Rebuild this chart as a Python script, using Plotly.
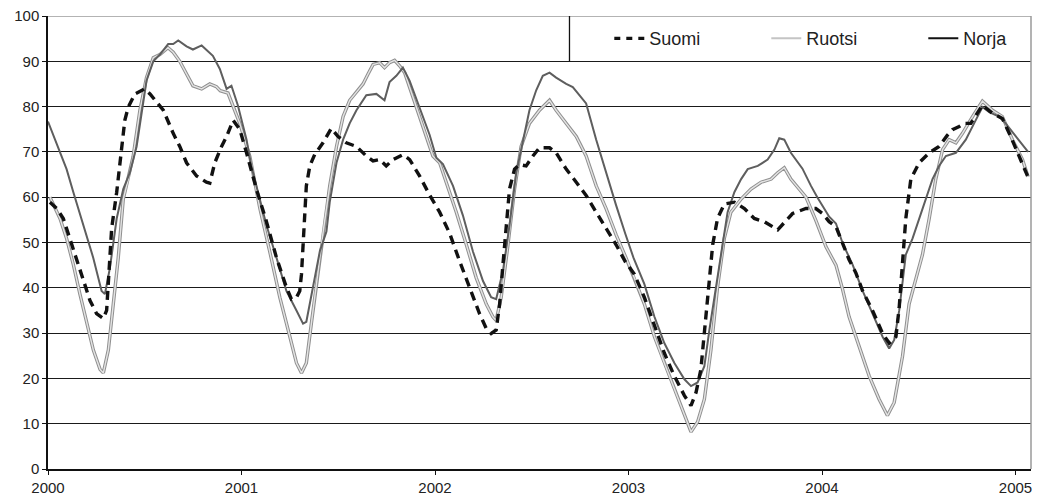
import plotly.graph_objects as go

# ---- data (decimal years, index values) ----
suomi_x = [2000.01, 2000.045, 2000.079, 2000.113, 2000.148, 2000.182, 2000.217, 2000.251, 2000.286, 2000.303,
           2000.312, 2000.329, 2000.355, 2000.38, 2000.397, 2000.415, 2000.449, 2000.5, 2000.527, 2000.596,
           2000.647, 2000.681, 2000.716, 2000.768, 2000.819, 2000.836, 2000.862, 2000.897, 2000.923, 2000.957,
           2000.991, 2001.026, 2001.077, 2001.129, 2001.181, 2001.232, 2001.258, 2001.284, 2001.301, 2001.31,
           2001.318, 2001.327, 2001.335, 2001.353, 2001.378, 2001.421, 2001.464, 2001.499, 2001.542, 2001.594,
           2001.645, 2001.68, 2001.714, 2001.748, 2001.783, 2001.834, 2001.869, 2001.92, 2001.972, 2002.024,
           2002.076, 2002.127, 2002.179, 2002.23, 2002.265, 2002.29, 2002.316, 2002.334, 2002.351, 2002.368,
           2002.385, 2002.411, 2002.437, 2002.471, 2002.506, 2002.54, 2002.592, 2002.626, 2002.678, 2002.73,
           2002.781, 2002.833, 2002.884, 2002.936, 2002.983, 2003.03, 2003.082, 2003.134, 2003.185, 2003.237,
           2003.289, 2003.323, 2003.349, 2003.374, 2003.4, 2003.418, 2003.435, 2003.46, 2003.495, 2003.547,
           2003.599, 2003.65, 2003.702, 2003.771, 2003.813, 2003.848, 2003.917, 2003.968, 2004.003, 2004.037,
           2004.072, 2004.106, 2004.14, 2004.175, 2004.21, 2004.261, 2004.313, 2004.347, 2004.382, 2004.399,
           2004.416, 2004.433, 2004.459, 2004.502, 2004.554, 2004.605, 2004.648, 2004.674, 2004.709, 2004.734,
           2004.769, 2004.803, 2004.829, 2004.881, 2004.932, 2004.975, 2005.018, 2005.062]
suomi_y = [58.9, 57.5, 55.3, 50.9, 45.9, 41.5, 37.2, 34.3, 33.2, 35.0,
           42.2, 53.1, 61.1, 69.8, 77.0, 79.9, 82.8, 83.9, 82.8, 79.2,
           74.1, 71.2, 67.6, 64.7, 63.3, 63.1, 67.6, 71.2, 73.4, 77.0,
           75.0, 69.8, 61.8, 54.6, 46.6, 40.1, 37.5, 37.9, 39.3, 43.0,
           49.5, 56.7, 62.5, 66.9, 69.4, 72.0, 75.2, 73.4, 72.0, 71.2,
           69.1, 68.0, 68.3, 66.9, 68.3, 69.4, 68.3, 64.7, 60.5, 56.7,
           52.0, 45.9, 40.1, 34.3, 31.0, 29.9, 30.7, 36.4, 45.1, 54.6,
           61.8, 66.2, 67.2, 66.9, 69.1, 70.9, 70.9, 69.8, 66.2, 63.3,
           60.4, 56.7, 53.1, 49.5, 45.8, 43.0, 37.9, 31.4, 25.6, 20.5,
           16.2, 14.0, 16.9, 22.0, 33.6, 42.2, 49.5, 55.3, 58.5, 58.9,
           57.5, 55.3, 54.6, 52.8, 54.9, 56.4, 57.5, 57.5, 56.4, 54.6,
           53.5, 49.9, 46.2, 43.3, 39.3, 35.0, 29.9, 27.8, 29.2, 35.7,
           45.1, 55.3, 64.0, 67.6, 69.8, 71.2, 73.7, 74.9, 75.6, 76.3,
           76.3, 78.5, 80.3, 78.5, 77.4, 73.4, 69.1, 64.7]

ruotsi_x = [2000.01, 2000.062, 2000.096, 2000.131, 2000.165, 2000.2, 2000.234, 2000.269, 2000.286, 2000.312,
            2000.337, 2000.363, 2000.389, 2000.415, 2000.44, 2000.475, 2000.509, 2000.544, 2000.578, 2000.62,
            2000.647, 2000.681, 2000.716, 2000.749, 2000.794, 2000.836, 2000.87, 2000.89, 2000.93, 2000.96,
            2000.991, 2001.043, 2001.095, 2001.146, 2001.198, 2001.25, 2001.284, 2001.31, 2001.335, 2001.361,
            2001.387, 2001.422, 2001.456, 2001.491, 2001.525, 2001.559, 2001.594, 2001.628, 2001.654, 2001.68,
            2001.714, 2001.739, 2001.765, 2001.791, 2001.817, 2001.843, 2001.886, 2001.938, 2001.989, 2002.024,
            2002.059, 2002.11, 2002.162, 2002.213, 2002.265, 2002.299, 2002.316, 2002.342, 2002.377, 2002.411,
            2002.445, 2002.488, 2002.54, 2002.592, 2002.626, 2002.678, 2002.73, 2002.781, 2002.833, 2002.884,
            2002.936, 2002.987, 2003.03, 2003.082, 2003.134, 2003.185, 2003.237, 2003.289, 2003.323, 2003.357,
            2003.392, 2003.426, 2003.46, 2003.495, 2003.529, 2003.582, 2003.633, 2003.685, 2003.737, 2003.771,
            2003.805, 2003.839, 2003.917, 2003.968, 2004.02, 2004.072, 2004.106, 2004.14, 2004.192, 2004.244,
            2004.295, 2004.338, 2004.373, 2004.416, 2004.45, 2004.485, 2004.519, 2004.554, 2004.588, 2004.623,
            2004.657, 2004.692, 2004.726, 2004.778, 2004.829, 2004.881, 2004.932, 2004.984, 2005.036, 2005.065]
ruotsi_y = [60.0, 55.3, 50.9, 45.1, 38.6, 32.1, 26.3, 22.0, 21.2, 26.3,
            36.4, 46.6, 59.6, 64.0, 69.0, 79.2, 86.4, 90.8, 91.5, 93.0,
            92.0, 90.0, 87.2, 84.6, 83.9, 85.0, 84.4, 83.5, 83.0, 79.5,
            76.3, 69.0, 57.5, 48.0, 37.9, 29.2, 23.4, 21.2, 23.4, 32.1,
            40.8, 52.4, 62.5, 71.2, 77.8, 81.4, 83.2, 85.0, 87.2, 89.3,
            89.7, 88.6, 89.7, 90.2, 89.0, 87.5, 82.1, 75.6, 69.1, 67.6,
            63.3, 56.7, 49.5, 42.2, 36.4, 33.6, 32.8, 37.9, 49.5, 61.8,
            71.2, 76.3, 79.2, 81.4, 79.2, 76.3, 73.4, 69.1, 62.5, 57.5,
            51.7, 46.6, 42.2, 36.4, 29.2, 23.4, 17.6, 11.8, 8.2, 10.4,
            15.4, 26.3, 40.1, 50.9, 56.7, 59.6, 61.8, 63.3, 64.0, 65.4,
            66.5, 64.0, 60.0, 54.9, 49.1, 45.0, 39.7, 33.6, 27.0, 20.5,
            15.4, 11.8, 14.7, 24.9, 36.4, 42.2, 47.3, 55.3, 64.0, 70.5,
            72.7, 72.0, 74.1, 77.8, 81.2, 79.2, 77.8, 72.7, 68.3, 64.5]

norja_x = [2000.0, 2000.062, 2000.096, 2000.131, 2000.182, 2000.234, 2000.277, 2000.294, 2000.32, 2000.355,
           2000.389, 2000.423, 2000.458, 2000.484, 2000.509, 2000.544, 2000.578, 2000.621, 2000.647, 2000.673,
           2000.716, 2000.749, 2000.794, 2000.852, 2000.888, 2000.923, 2000.948, 2000.981, 2001.009, 2001.026,
           2001.05, 2001.077, 2001.129, 2001.181, 2001.232, 2001.284, 2001.318, 2001.335, 2001.37, 2001.405,
           2001.439, 2001.456, 2001.491, 2001.525, 2001.559, 2001.594, 2001.645, 2001.697, 2001.739, 2001.765,
           2001.8, 2001.834, 2001.869, 2001.92, 2001.972, 2002.007, 2002.041, 2002.093, 2002.144, 2002.196,
           2002.248, 2002.29, 2002.316, 2002.351, 2002.385, 2002.42, 2002.454, 2002.488, 2002.523, 2002.557,
           2002.592, 2002.626, 2002.678, 2002.712, 2002.747, 2002.781, 2002.833, 2002.884, 2002.936, 2002.983,
           2003.026, 2003.082, 2003.134, 2003.185, 2003.237, 2003.289, 2003.323, 2003.357, 2003.392, 2003.418,
           2003.443, 2003.478, 2003.512, 2003.547, 2003.582, 2003.616, 2003.668, 2003.719, 2003.754, 2003.779,
           2003.805, 2003.839, 2003.899, 2003.943, 2003.977, 2004.037, 2004.072, 2004.106, 2004.158, 2004.21,
           2004.261, 2004.313, 2004.347, 2004.373, 2004.399, 2004.433, 2004.468, 2004.502, 2004.537, 2004.571,
           2004.605, 2004.64, 2004.692, 2004.743, 2004.786, 2004.829, 2004.864, 2004.915, 2004.949, 2005.001,
           2005.053, 2005.065]
norja_y = [76.7, 69.8, 66.2, 61.1, 53.8, 46.6, 39.3, 38.6, 44.4, 55.3,
           61.8, 65.4, 71.2, 78.5, 85.7, 90.0, 91.5, 93.8, 93.8, 94.6,
           93.3, 92.6, 93.5, 91.2, 88.3, 83.9, 84.6, 80.3, 75.5, 72.7,
           67.0, 62.5, 53.8, 46.6, 39.3, 35.0, 32.1, 32.5, 40.1, 48.1,
           52.4, 58.9, 67.6, 72.7, 76.3, 79.2, 82.5, 82.8, 81.4, 85.4,
           86.8, 88.6, 85.7, 79.9, 73.8, 68.7, 67.3, 62.5, 56.0, 48.0,
           41.5, 37.9, 37.5, 43.7, 53.8, 65.4, 72.7, 79.2, 83.6, 86.8,
           87.5, 86.4, 85.0, 84.3, 82.5, 80.7, 72.7, 65.4, 58.2, 52.0,
           46.6, 40.8, 33.6, 27.8, 23.4, 19.8, 18.3, 19.1, 22.7, 30.7,
           37.9, 48.0, 56.7, 61.1, 64.0, 66.2, 66.9, 68.3, 70.5, 73.0,
           72.7, 69.8, 66.3, 62.5, 59.9, 55.7, 54.2, 49.9, 45.1, 39.3,
           34.3, 29.2, 26.6, 28.5, 35.0, 47.3, 50.9, 55.3, 59.6, 64.0,
           66.9, 69.1, 69.8, 72.7, 76.3, 79.9, 78.8, 77.8, 76.3, 73.4,
           70.5, 70.0]

year_ticks = [2000, 2001, 2002, 2003, 2004, 2005]
year_labels = ["2000", "2001", "2002", "2003", "2004", "2005"]
y_ticks = [0, 10, 20, 30, 40, 50, 60, 70, 80, 90, 100]

FONT = "Liberation Sans, Arial, sans-serif"

fig = go.Figure()

# Ruotsi: light line with darker edges
fig.add_trace(go.Scatter(x=ruotsi_x, y=ruotsi_y, mode="lines", showlegend=False,
                         line=dict(color="#8f8f8f", width=3.4), hoverinfo="skip"))
fig.add_trace(go.Scatter(x=ruotsi_x, y=ruotsi_y, mode="lines", showlegend=False,
                         line=dict(color="#e4e4e4", width=1.4), name="Ruotsi"))
# Norja
fig.add_trace(go.Scatter(x=norja_x, y=norja_y, mode="lines", showlegend=False,
                         line=dict(color="#5e5e5e", width=2), name="Norja"))
# Suomi
fig.add_trace(go.Scatter(x=suomi_x, y=suomi_y, mode="lines", showlegend=False,
                         line=dict(color="#111111", width=3.4, dash="9px,6px"), name="Suomi"))

# legend entries
fig.add_trace(go.Scatter(x=[None], y=[None], mode="lines", name="Suomi", legendwidth=112,
                         line=dict(color="#111111", width=3.4, dash="6px,6px")))
fig.add_trace(go.Scatter(x=[None], y=[None], mode="lines", name="Ruotsi", legendwidth=112,
                         line=dict(color="#c4c4c4", width=2)))
fig.add_trace(go.Scatter(x=[None], y=[None], mode="lines", name="Norja", legendwidth=52,
                         line=dict(color="#111111", width=2)))

x_end = 2005.08
fig.update_layout(
    width=1038, height=502,
    margin=dict(l=48, r=6, t=16, b=26, pad=0),
    paper_bgcolor="white", plot_bgcolor="white",
    font=dict(family=FONT, color="#222222", size=14),
    xaxis=dict(range=[2000, x_end], tickvals=year_ticks, ticktext=year_labels,
               showgrid=False, zeroline=False, showline=True, linecolor="#111111", linewidth=1.5,
               ticks="outside", ticklen=4, tickcolor="#111111", tickwidth=1,
               tickfont=dict(size=15, color="#222222")),
    yaxis=dict(range=[0, 100], tickvals=y_ticks, showgrid=True, gridcolor="#1a1a1a", gridwidth=1.3,
               zeroline=False, showline=True, linecolor="#111111", linewidth=1.5,
               ticks="outside", ticklen=4, tickcolor="#111111", tickwidth=1,
               tickfont=dict(size=15, color="#222222")),
    legend=dict(orientation="h", x=0.571, y=0.95, xanchor="left", yanchor="middle",
                bgcolor="rgba(0,0,0,0)", borderwidth=0,
                font=dict(size=18, color="#222222", family=FONT)),
    shapes=[
        dict(type="line", xref="paper", yref="y", x0=0, x1=1, y0=100, y1=100,
             line=dict(color="#9a9a9a", width=1.5)),
        dict(type="line", xref="paper", yref="paper", x0=1, x1=1, y0=0, y1=1,
             line=dict(color="#9a9a9a", width=1.5)),
        dict(type="line", xref="paper", yref="y", x0=0.5305, x1=0.5305, y0=90, y1=100,
             line=dict(color="#111111", width=1.3)),
    ],
)

fig.write_html("out.html")
